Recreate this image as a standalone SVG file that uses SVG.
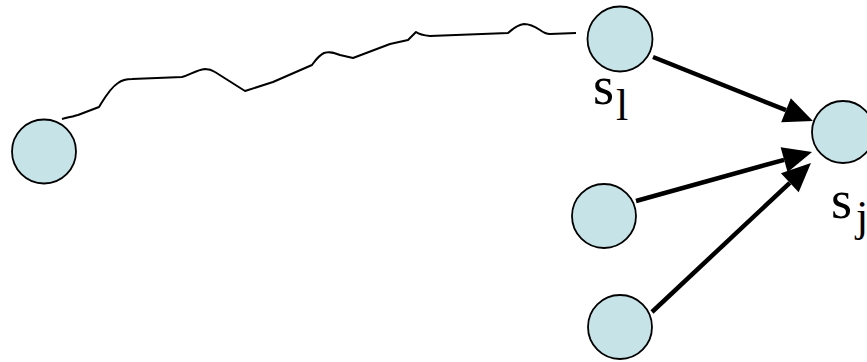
<svg xmlns="http://www.w3.org/2000/svg" width="867" height="362" viewBox="0 0 867 362">
<style>
.node{fill:#C6E4E8;stroke:#000;stroke-width:1.8}
.lbl{font-family:"Liberation Serif","Times New Roman",serif;fill:#000}
.arr{stroke:#000;stroke-width:4.5;fill:none}
.wave{stroke:#000;stroke-width:2;fill:none;stroke-linejoin:round}
</style>
<defs>
<marker id="ah" markerUnits="userSpaceOnUse" markerWidth="32" markerHeight="30" refX="0" refY="14" orient="auto" viewBox="0 0 32 28" overflow="visible">
<path d="M0,1 L29,14 L0,27 z" fill="#000"/>
</marker>
</defs>
<rect width="867" height="362" fill="#fff"/>
<g id="connectors">
<path class="wave" d="M62,119 C70,117 75,116 78,115 L99,107 C104,99 110,88 118,83 C122,80 126,79 132,79 L182,77 C190,75 196,70 205,69 C210,69 212,70 215,72 L245,91 L273,82 L312,65 C315,61 318,56 324,53 C330,51 335,53 340,55 L353,58 L390,44 L408,40 L416,32 Q420,35 430,36 L508,33 C512,30 516,25 524,24 C530,24 534,26 540,30 C544,33 546,34 550,34 L576,33"/>
<line class="arr" x1="653" y1="57" x2="786" y2="110.2" marker-end="url(#ah)"/>
<line class="arr" x1="636" y1="201" x2="784.1" y2="159.8" marker-end="url(#ah)"/>
<line class="arr" x1="652" y1="312" x2="789.8" y2="182.8" marker-end="url(#ah)"/>
</g>
<g id="node-left"><circle class="node" cx="44" cy="151.5" r="32"/></g>
<g id="node-sl">
<circle class="node" cx="620" cy="39" r="32.5"/>
<text class="lbl" x="593" y="104" font-size="54">s</text>
<text class="lbl" x="616" y="120" font-size="44">l</text>
</g>
<g id="node-sj">
<circle class="node" cx="843" cy="132" r="31"/>
<text class="lbl" x="831" y="218" font-size="54">s</text>
<text class="lbl" x="856" y="231" font-size="44">j</text>
</g>
<g id="node-mid"><circle class="node" cx="604" cy="216" r="32"/></g>
<g id="node-bottom"><circle class="node" cx="620" cy="327" r="32"/></g>
</svg>
